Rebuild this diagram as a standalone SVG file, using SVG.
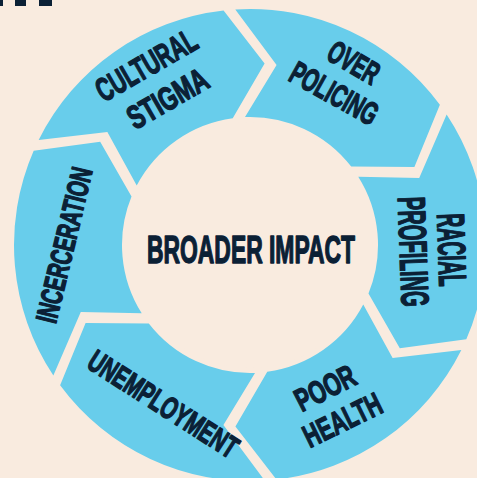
<svg xmlns="http://www.w3.org/2000/svg" width="477" height="478" viewBox="0 0 477 478">
<style>
.bg{fill:#F9EBDF}
.seg{fill:#68CDEB}
.lbl{font-family:"Liberation Sans",Arial,sans-serif;font-weight:bold;fill:#0B2035;stroke:#0B2035;stroke-width:1.4;stroke-linejoin:round;text-anchor:middle}
</style>
<defs>
<path id="seg" d="M235.30,9.46 A236,236 0 0 1 439.88,104.85 L414.41,166.93 L351.20,166.62 A128,128 0 0 0 245.00,117.10 L276.59,64.95 Z"/>
</defs>
<rect class="bg" x="0" y="0" width="477" height="478"/>
<g id="title-fragment" fill="#0B2035">
<rect x="0" y="0" width="3" height="6"/>
<rect x="15" y="0" width="11" height="6"/>
<rect x="39" y="0" width="13" height="6"/>
</g>
<g id="over-policing">
<use href="#seg" class="seg"/>
<text class="lbl" transform="translate(353.8,62.5) rotate(30) scale(0.6,1)" x="0" y="11" font-size="32">OVER</text>
<text class="lbl" transform="translate(334.2,93.3) rotate(29) scale(0.62,1)" x="0" y="11" font-size="32">POLICING</text>
</g>
<g id="racial-profiling">
<use href="#seg" class="seg" transform="rotate(60 250 245)"/>
<text class="lbl" transform="translate(451.7,250) rotate(88) scale(0.495,1)" x="0" y="13.5" font-size="39">RACIAL</text>
<text class="lbl" transform="translate(413.3,251.7) rotate(88) scale(0.518,1)" x="0" y="13.5" font-size="39">PROFILING</text>
</g>
<g id="poor-health">
<use href="#seg" class="seg" transform="rotate(120 250 245)"/>
<text class="lbl" transform="translate(325.3,388) rotate(-27) scale(0.678,1)" x="0" y="11" font-size="32">POOR</text>
<text class="lbl" transform="translate(342.5,420) rotate(-26) scale(0.655,1)" x="0" y="11" font-size="32">HEALTH</text>
</g>
<g id="unemployment">
<use href="#seg" class="seg" transform="rotate(180 250 245)"/>
<text class="lbl" transform="translate(163.2,404.2) rotate(32.6) scale(0.652,1)" x="0" y="10.5" font-size="31">UNEMPLOYMENT</text>
</g>
<g id="incerceration">
<use href="#seg" class="seg" transform="rotate(240 250 245)"/>
<text class="lbl" transform="translate(64.5,245) rotate(-76.5) scale(0.64,1)" x="0" y="10" font-size="30">INCERCERATION</text>
</g>
<g id="cultural-stigma">
<use href="#seg" class="seg" transform="rotate(300 250 245)"/>
<text class="lbl" transform="translate(146.2,65) rotate(-30) scale(0.63,1)" x="0" y="11.5" font-size="33">CULTURAL</text>
<text class="lbl" transform="translate(167.5,98.3) rotate(-30) scale(0.686,1)" x="0" y="11.5" font-size="33">STIGMA</text>
</g>
<g id="broader-impact">
<circle cx="250" cy="245" r="123" class="bg"/>
<text class="lbl" transform="translate(251,263) scale(0.602,1)" x="0" y="0" font-size="38">BROADER IMPACT</text>
</g>
</svg>
